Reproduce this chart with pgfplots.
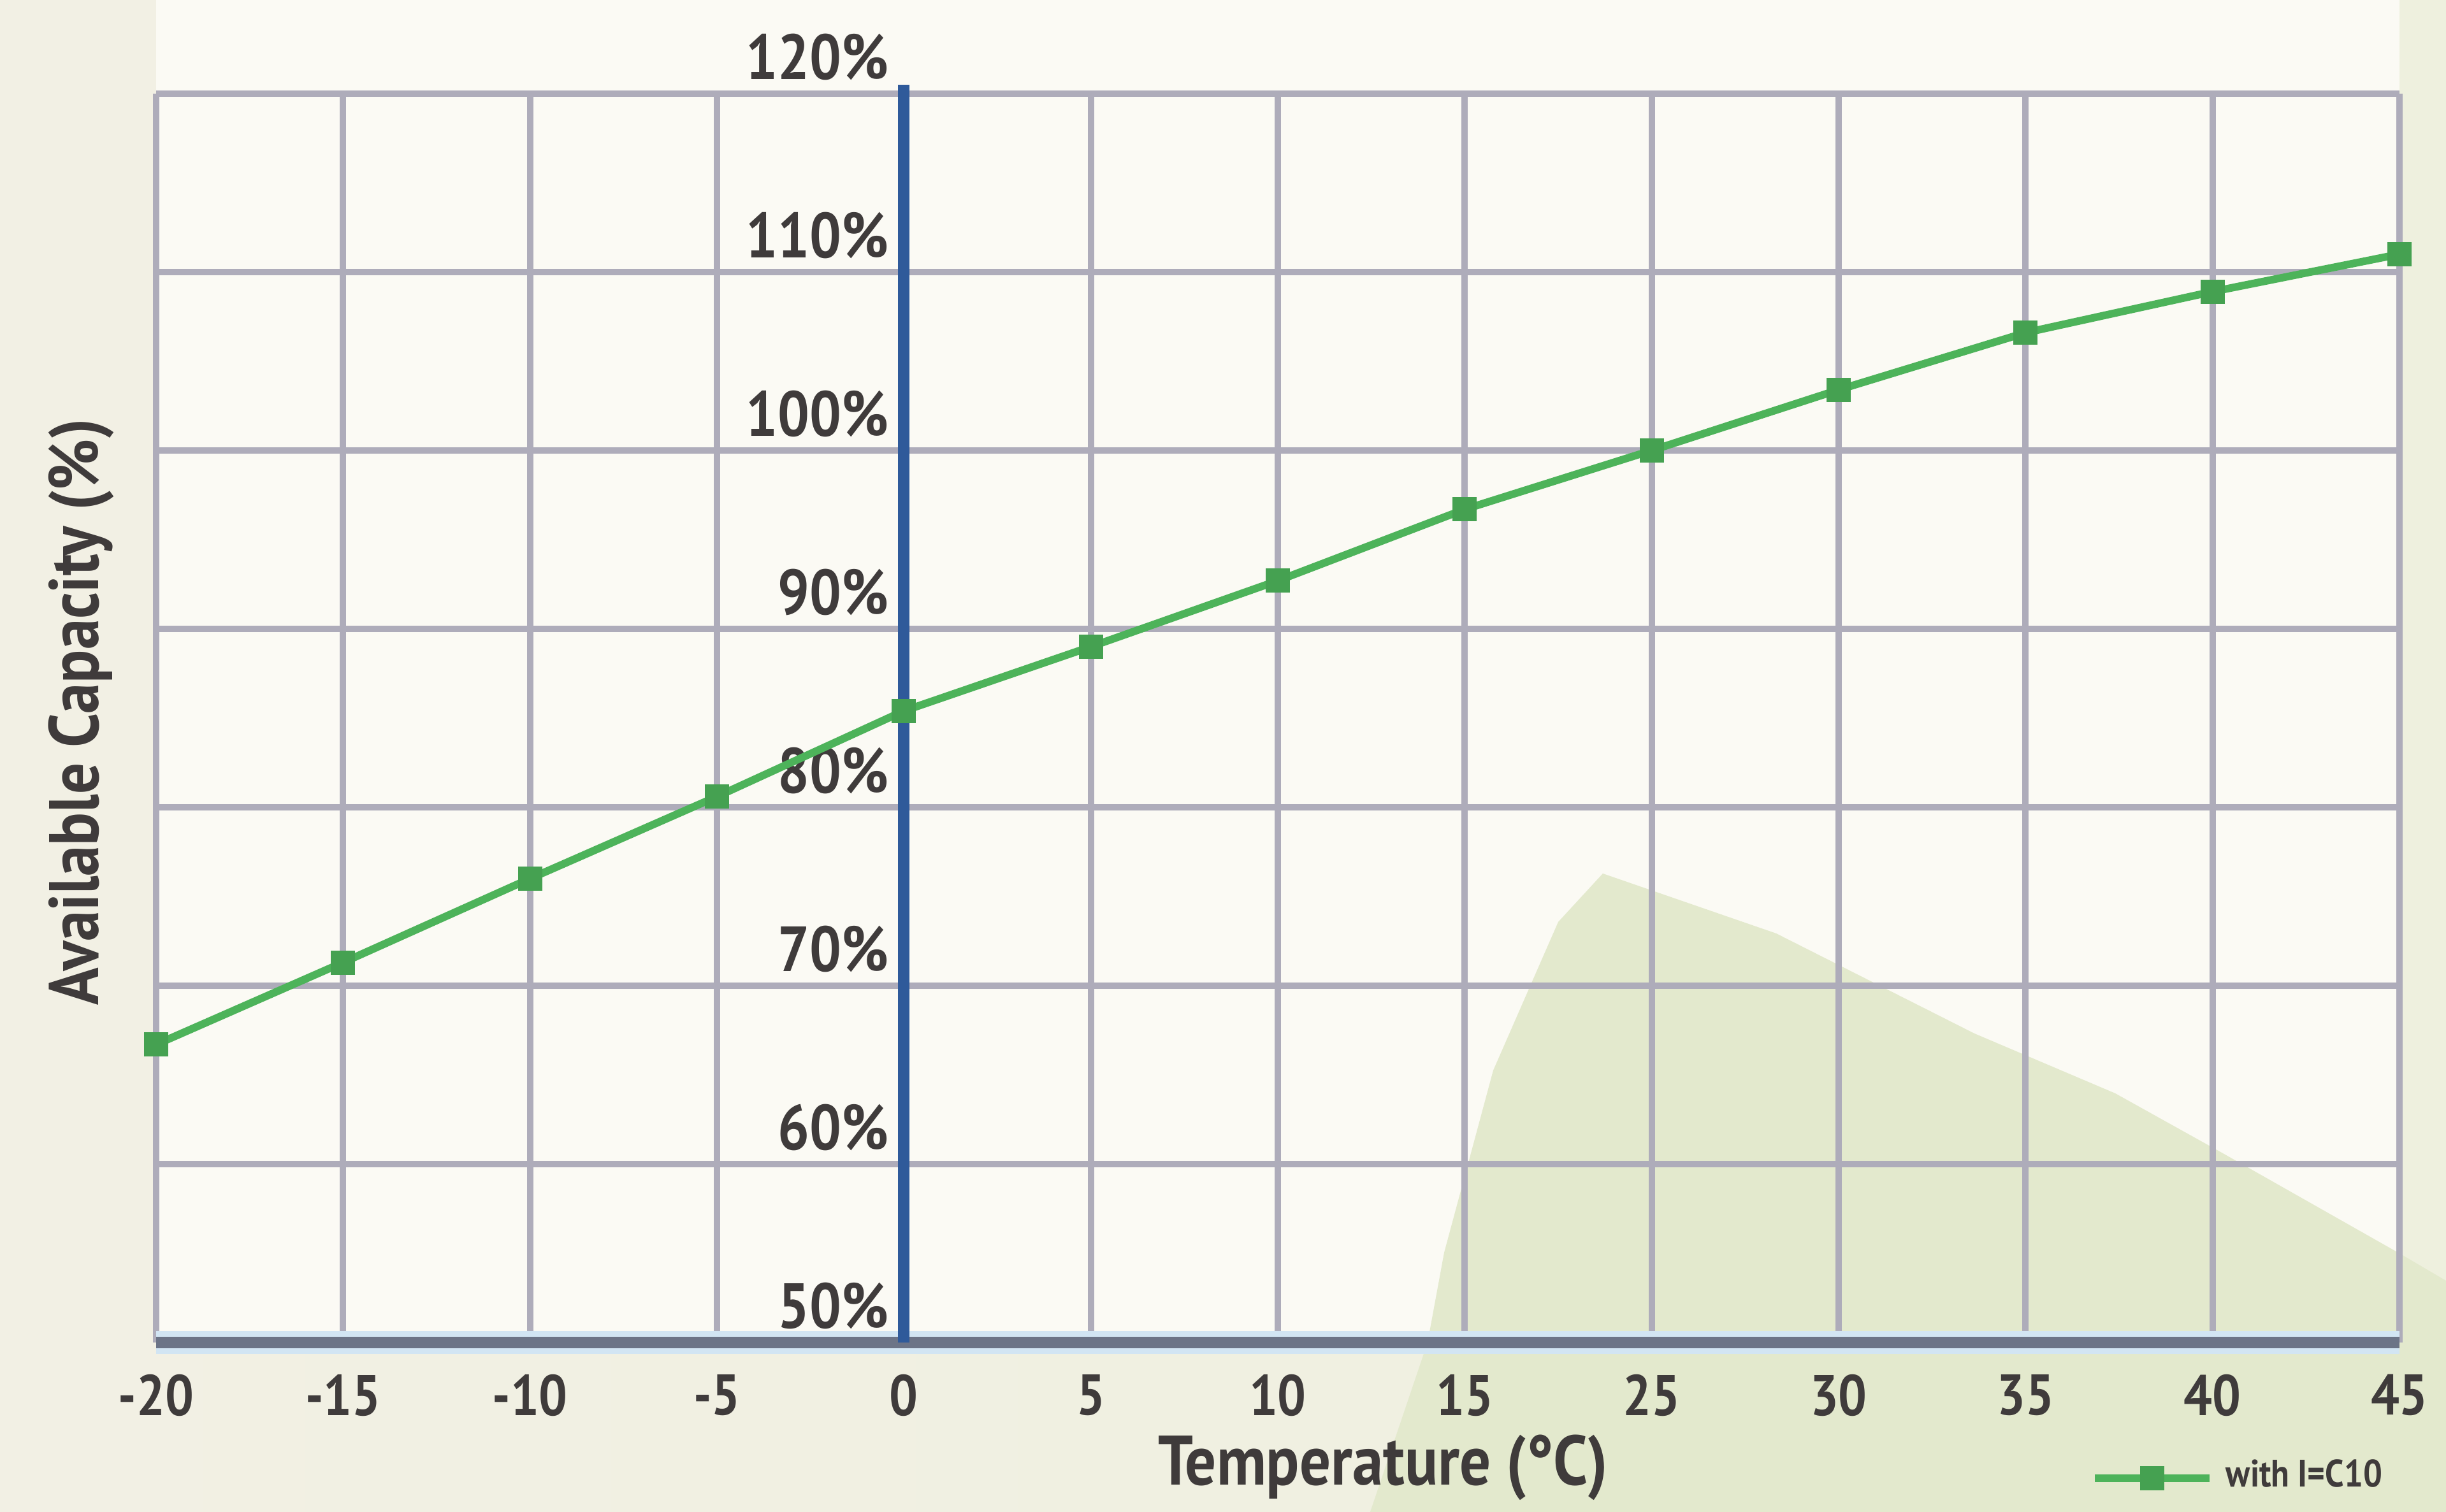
\documentclass[border=0pt]{standalone}
\usepackage{pgfplots}
\pgfplotsset{compat=1.18}
\usepackage{fontspec}
\setmainfont{PT Sans}[FakeStretch=0.88]
\definecolor{txt}{HTML}{3F3B3B}
\definecolor{gridc}{HTML}{AEACBA}
\definecolor{blueline}{HTML}{2F5A9A}
\definecolor{baseaxis}{HTML}{6C7487}
\definecolor{halo}{HTML}{D2E5F3}
\definecolor{curve}{HTML}{4DB35A}
\definecolor{bgleft}{HTML}{F2F0E4}
\definecolor{bgright}{HTML}{EEF0DE}
\definecolor{plotbg}{HTML}{FBFAF4}
\definecolor{hill}{HTML}{E3E9CD}

\begin{document}
\begin{tikzpicture}
% page background (1px of the reference = 0.1pt)
\useasboundingbox (-24.5pt,-26.6pt) rectangle (359.3pt,210.7pt);
\shade[left color=bgleft, right color=bgright] (-24.5pt,-26.6pt) rectangle (359.3pt,210.7pt);
\fill[plotbg] (0pt,0pt) rectangle (352pt,210.7pt);
\fill[hill] (190.5pt,-26.6pt) -- (199.5pt,0pt) -- (202.1pt,14.1pt) -- (209.8pt,42.7pt)
  -- (220pt,66pt) -- (227pt,73.6pt) -- (254.2pt,64.2pt) -- (285.3pt,48.5pt)
  -- (307.4pt,39.1pt) -- (324.1pt,29.8pt) -- (351.8pt,14.1pt) -- (359.3pt,9.7pt)
  -- (359.3pt,-26.6pt) -- cycle;

\begin{axis}[
  at={(0,0)}, anchor=south west,
  width=352pt, height=196pt, scale only axis,
  xmin=0, xmax=12, ymin=50, ymax=120,
  xtick={0,...,12},
  xticklabels={-20,-15,-10,-5,0,5,10,15,25,30,35,40,45},
  ytick={50,60,70,80,90,100,110,120},
  yticklabels={50\%,60\%,70\%,80\%,90\%,100\%,110\%,120\%},
  grid=major,
  major grid style={line width=1pt, color=gridc},
  major tick length=0pt,
  axis line style={draw=none},
  clip=false,
  xticklabel style={font=\bfseries\fontsize{9}{10}\selectfont, text=txt, yshift=-1.5pt},
  yticklabel style={font=\bfseries\fontsize{10}{11}\selectfont, text=txt,
    anchor=south east, inner sep=0pt, xshift=115.1pt, yshift=1.9pt},
  xlabel={Temperature (°C)},
  ylabel={Available Capacity (\%)},
  xlabel style={font=\bfseries\fontsize{11}{12}\selectfont, text=txt,
    at={(rel axis cs:0.547,0)}, anchor=center, yshift=-19.6pt},
  ylabel style={font=\bfseries\fontsize{11}{12}\selectfont, text=txt,
    at={(rel axis cs:0,0.505)}, anchor=center, yshift=11.8pt},
  legend style={at={(rel axis cs:0.9986,-0.1087)}, anchor=east,
    draw=none, fill=none, inner sep=0pt,
    font=\bfseries\fontsize{6}{7}\selectfont, text=txt},
  legend image code/.code={
    \draw[mark repeat=2, mark phase=2] plot coordinates {(0pt,0pt) (9pt,0pt) (18pt,0pt)};
  },
]
% bottom axis line and the vertical line at 0 degrees
\draw[halo, line width=3.6pt] (rel axis cs:0,0) -- (rel axis cs:1,0);
\draw[baseaxis, line width=1.8pt] (rel axis cs:0,0) -- (rel axis cs:1,0);
\draw[blueline, line width=1.8pt] (axis cs:4,50) -- ([yshift=1.4pt]axis cs:4,120);

\addplot[color=curve, line width=1.2pt, mark=square*, mark size=1.3pt,
  mark options={fill=curve!90!black, draw=curve!90!black}] coordinates {
  (0, 66.7)
  (1, 71.3)
  (2, 76.0)
  (3, 80.6)
  (4, 85.4)
  (5, 89.0)
  (6, 92.7)
  (7, 96.7)
  (8, 100.0)
  (9, 103.4)
  (10, 106.6)
  (11, 108.9)
  (12, 111.0)
};
\addlegendentry{with I=C10}
\end{axis}
\end{tikzpicture}
\end{document}
